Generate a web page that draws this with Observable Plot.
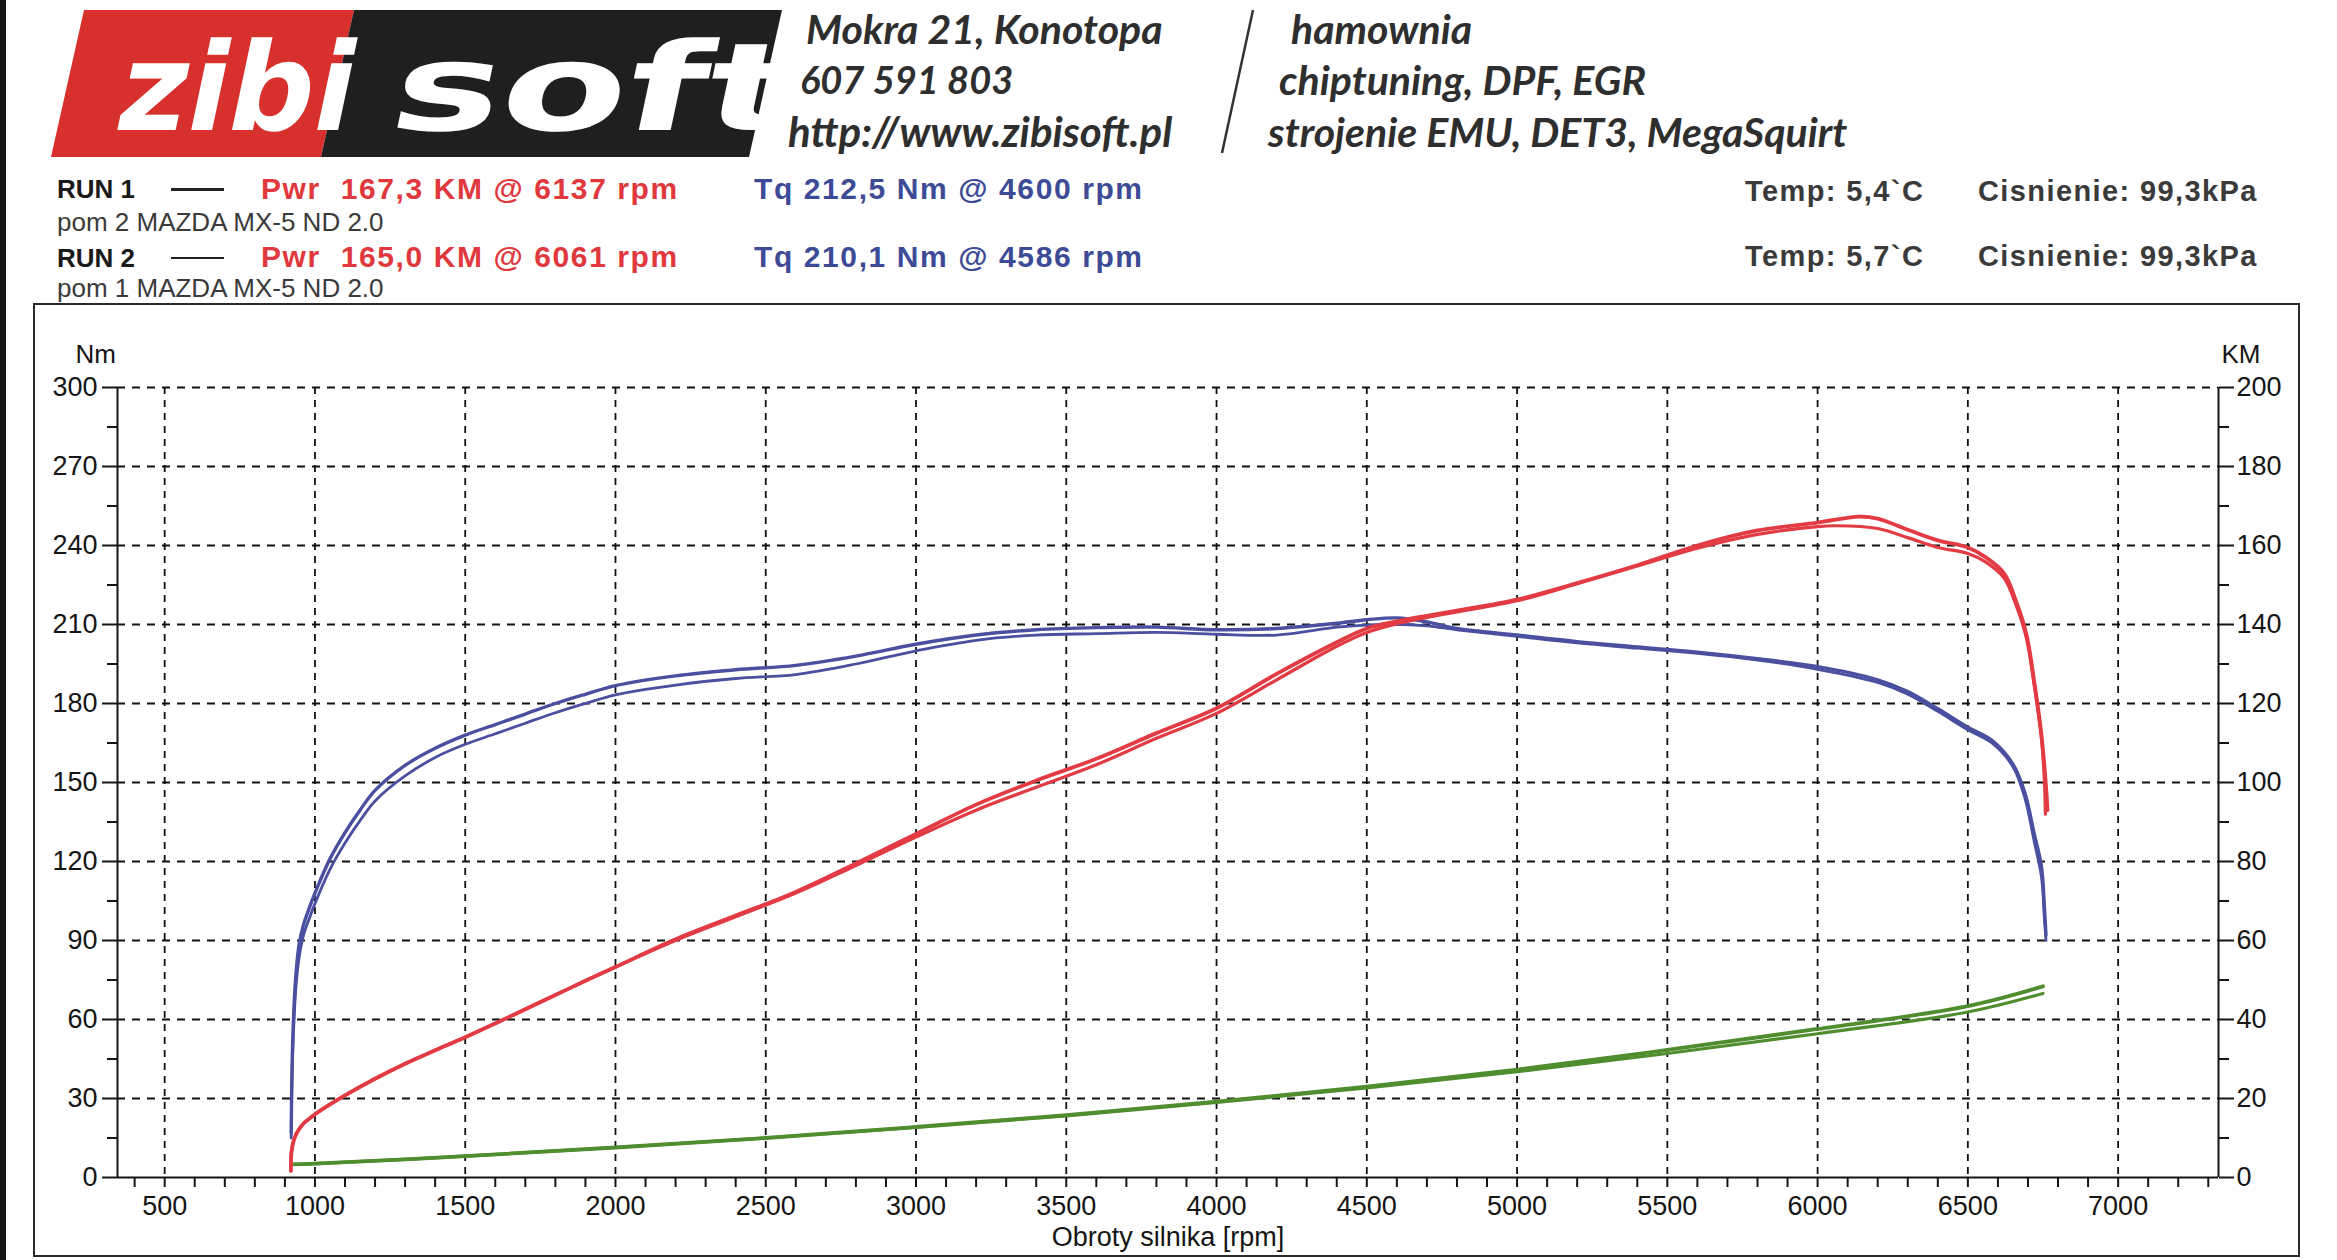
<!DOCTYPE html>
<html><head><meta charset="utf-8">
<script src="https://cdn.jsdelivr.net/npm/d3@7"></script>
<script src="https://cdn.jsdelivr.net/npm/@observablehq/plot@0.6"></script>
<style>
html,body{margin:0;padding:0;background:#fff;}
body{width:2337px;height:1260px;position:relative;overflow:hidden;font-family:"Liberation Sans",Arial,sans-serif;}
.t{position:absolute;white-space:pre;line-height:1;transform:translateY(-50%);}
.hdr{font-family:Lato,"Open Sans",sans-serif;font-style:italic;font-weight:700;font-size:41px;color:#2e2e2e;}
.run{font-weight:700;font-size:26px;color:#1a1a1a;}
.pwr{font-weight:700;font-size:30px;letter-spacing:1.6px;color:#e0383d;}
.tq{font-weight:700;font-size:30px;letter-spacing:1.6px;color:#3d4b97;}
.env{font-weight:700;font-size:29px;letter-spacing:1.4px;color:#3a3a3a;}
.pom{font-size:26px;color:#3a3a3a;}
#edge{position:absolute;left:0;top:0;width:6px;height:1260px;background:#151515;}
#chart{position:absolute;left:33px;top:303px;}
</style></head><body>
<div id="edge"></div>
<svg width="800" height="170" style="position:absolute;left:0;top:0">
  <polygon points="84,10 354,10 321,157 51,157" fill="#d8302c"/>
  <polygon points="354,10 782,10 749,157 321,157" fill="#1f1f1f"/>
  <g transform="translate(0,130) skewX(-12)" fill="#fff" font-family="DejaVu Sans" font-weight="700" font-size="122">
    <text x="112" y="0" textLength="236" lengthAdjust="spacingAndGlyphs">zibi</text>
    <text x="386" y="0" textLength="400" lengthAdjust="spacingAndGlyphs">soft</text>
  </g>
</svg>
<svg width="2337" height="170" style="position:absolute;left:0;top:0;pointer-events:none">
  <line x1="1253" y1="10" x2="1222" y2="153" stroke="#333" stroke-width="2.5"/>
</svg>
<div class="t hdr" style="left:806px;top:28px">Mokra 21, Konotopa</div>
<div class="t hdr" style="left:800px;top:79px;font-size:38px">607 591 803</div>
<div class="t hdr" style="left:788px;top:131px;font-size:42px">http://www.zibisoft.pl</div>
<div class="t hdr" style="left:1291px;top:28px">hamownia</div>
<div class="t hdr" style="left:1279px;top:79px">chiptuning, DPF, EGR</div>
<div class="t hdr" style="left:1268px;top:131px">strojenie EMU, DET3, MegaSquirt</div>

<div class="t run" style="left:57px;top:189px">RUN 1</div>
<div style="position:absolute;left:171px;top:188px;width:53px;height:3px;background:#222"></div>
<div class="t pwr" style="left:261px;top:189px">Pwr  167,3 KM @ 6137 rpm</div>
<div class="t tq" style="left:754px;top:189px">Tq 212,5 Nm @ 4600 rpm</div>
<div class="t env" style="left:1745px;top:191px">Temp: 5,4`C</div>
<div class="t env" style="left:1978px;top:191px">Cisnienie: 99,3kPa</div>
<div class="t pom" style="left:57px;top:222px">pom 2 MAZDA MX-5 ND 2.0</div>

<div class="t run" style="left:57px;top:258px">RUN 2</div>
<div style="position:absolute;left:171px;top:257px;width:53px;height:2px;background:#222"></div>
<div class="t pwr" style="left:261px;top:257px">Pwr  165,0 KM @ 6061 rpm</div>
<div class="t tq" style="left:754px;top:257px">Tq 210,1 Nm @ 4586 rpm</div>
<div class="t env" style="left:1745px;top:256px">Temp: 5,7`C</div>
<div class="t env" style="left:1978px;top:256px">Cisnienie: 99,3kPa</div>
<div class="t pom" style="left:57px;top:288px">pom 1 MAZDA MX-5 ND 2.0</div>

<div id="chart"></div>
<script>
// ---- axis ticks ----
const xTicks = [500,1000,1500,2000,2500,3000,3500,4000,4500,5000,5500,6000,6500,7000];
const nmTicks = [0,30,60,90,120,150,180,210,240,270,300];
const kmTicks = [0,20,40,60,80,100,120,140,160,180,200];
const xDomain = [343, 7334];

// ---- torque [Nm] ----
const rpmT1 = [921,924,930,938,948,962,980,1000,1050,1100,1150,1200,1300,1400,1500,1600,1700,1800,1900,2000,2200,2400,2600,2800,3000,3200,3400,3600,3800,4000,4200,4400,4500,4600,4700,4800,5000,5200,5400,5600,5800,6000,6200,6300,6400,6500,6580,6650,6690,6720,6745,6755,6760];
const torque1 = [17,43,64,79,89,96,102,108,121,131,139.5,147,156.5,163,168,172,176,180,183.5,186.8,190.5,192.8,194.5,198,202.5,206,208,208.8,209,208,208.5,210.5,211.8,212.5,211,208.5,206,203.5,201.5,199.5,197,194,189,184.5,178,171,166,157,146,131,118,102,92];
const rpmT2 = [921,924,930,938,948,962,980,1000,1050,1100,1150,1200,1300,1400,1500,1600,1700,1800,1900,2000,2200,2400,2600,2800,3000,3200,3400,3600,3800,4000,4200,4400,4500,4586,4700,4800,5000,5200,5400,5600,5800,6000,6200,6300,6400,6500,6580,6650,6690,6720,6745,6755,6760];
const torque2 = [15,39,59,74,84,92,98,104,117,127,135.5,143,152.5,159.5,164.5,168.5,172.5,176.5,180,183.3,187,189.5,191,195,200,204,206,206.5,207,206.3,206,209,209.8,210.1,209.5,208,205.5,203,201,199,196.5,193,188,183.5,177,170,165,156,144,128,114,98,90];

// ---- power [KM] ----
const rpmP1 = [920,922,930,941,960,980,1000,1050,1100,1200,1300,1400,1500,1600,1700,1800,1900,2000,2200,2400,2600,2800,3000,3200,3400,3600,3800,4000,4200,4400,4500,4600,4700,4800,5000,5200,5400,5600,5800,6000,6137,6200,6300,6400,6500,6560,6620,6660,6695,6720,6745,6760,6765];
const power1 = [1.7,6.5,9.5,11.5,13.5,14.8,16,18.5,20.8,25,28.8,32.2,35.5,39,42.6,46.2,49.8,53.3,60.3,66.3,72.3,79.5,87,94.4,100.5,106,112.5,118.8,127.5,135.5,139,140.8,142.2,143.5,146.3,150.5,155,160,163.8,165.8,167.3,166.8,164,161.3,159.5,157,153,146,137.5,126,112,99,93];
const rpmP2 = [920,922,930,941,960,980,1000,1050,1100,1200,1300,1400,1500,1600,1700,1800,1900,2000,2200,2400,2600,2800,3000,3200,3400,3600,3800,4000,4200,4400,4500,4600,4700,4800,5000,5200,5400,5600,5800,6000,6061,6200,6300,6400,6500,6560,6620,6660,6695,6720,6745,6755,6758];
const power2 = [1.7,6.5,9.5,11.5,13.5,14.8,16,18.5,20.8,25,28.8,32.2,35.5,39,42.6,46.2,49.8,53.3,60,66,72,79,86.2,93,98.8,104.5,111.2,117.5,126,134.5,138,140.2,141.8,143.2,146,150.3,154.8,159.3,162.8,164.8,165,164.3,162,159.5,158,155.8,151.8,145,136.5,125,111,100,92];

// ---- losses (green) [KM] ----
const rpmL = [925,1000,1500,2000,2500,3000,3500,4000,4500,5000,5500,6000,6500,6750];
const loss1 = [3.3,3.5,5.4,7.6,10,12.8,15.8,19.2,23,27.3,32.3,37.6,43.4,48.4];
const loss2 = [3.3,3.5,5.4,7.6,10,12.7,15.6,19,22.7,26.8,31.4,36.4,41.9,46.6];

// KM are drawn on the Nm scale: 200 KM = 300 Nm
const KM = 1.5;
const toRows = (xs, ys, k) => xs.map((x, i) => ({rpm: x, v: ys[i] * k}));
const T1 = toRows(rpmT1, torque1, 1), T2 = toRows(rpmT2, torque2, 1);
const P1 = toRows(rpmP1, power1, KM), P2 = toRows(rpmP2, power2, KM);
const L1 = toRows(rpmL, loss1, KM), L2 = toRows(rpmL, loss2, KM);

const xMinor = d3.range(400, 7334, 100).filter(d => d % 500 !== 0);
const nmMinor = nmTicks.slice(0, -1).map(d => d + 15);
const kmMinor = kmTicks.slice(0, -1).map(d => (d + 10) * KM);

const BLUE = "#4a4f9f", RED = "#e23b44", GREEN = "#4f8d2e";
const line = (data, stroke, w) => Plot.line(data, {x: "rpm", y: "v", stroke, strokeWidth: w, curve: "catmull-rom"});

const chart = Plot.plot({
  width: 2267, height: 954,
  marginLeft: 84, marginRight: 82, marginTop: 84, marginBottom: 80,
  x: {domain: xDomain},
  y: {domain: [0, 300]},
  style: {fontFamily: "'Liberation Sans', Arial, sans-serif", fontSize: "27px", color: "#151515", background: "transparent", overflow: "visible"},
  marks: [
    Plot.gridX({ticks: xTicks, stroke: "#111", strokeOpacity: 1, strokeWidth: 1.8, strokeDasharray: "7,6"}),
    Plot.gridY({ticks: nmTicks.slice(1), stroke: "#111", strokeOpacity: 1, strokeWidth: 1.8, strokeDasharray: "8,7"}),
    Plot.ruleX(xDomain, {stroke: "#151515", strokeWidth: 2}),
    Plot.ruleY([0], {stroke: "#151515", strokeWidth: 2}),
    Plot.axisY({anchor: "left", ticks: nmTicks, tickSize: 15, tickPadding: 5, strokeWidth: 2, tickFormat: d => String(d), label: null, fontSize: 27}),
    Plot.axisY({anchor: "left", ticks: nmMinor, tickSize: 10, strokeWidth: 2, tickFormat: () => "", label: null}),
    Plot.axisY({anchor: "right", ticks: kmTicks.map(d => d * KM), tickSize: 15, tickPadding: 3, strokeWidth: 2, tickFormat: d => String(Math.round(d / KM)), label: null, fontSize: 27}),
    Plot.axisY({anchor: "right", ticks: kmMinor, tickSize: 10, strokeWidth: 2, tickFormat: () => "", label: null}),
    Plot.axisX({anchor: "bottom", ticks: xTicks, tickSize: 10, tickPadding: 8, strokeWidth: 2, tickFormat: d => String(d), label: null, fontSize: 27}),
    Plot.axisX({anchor: "bottom", ticks: xMinor, tickSize: 10, strokeWidth: 2, tickFormat: () => "", label: null}),
    Plot.text(["Nm"], {text: d => d, frameAnchor: "top-left", lineAnchor: "middle", dx: -42, dy: -33, fontSize: 26}),
    Plot.text(["KM"], {text: d => d, frameAnchor: "top-right", lineAnchor: "middle", dx: 42, dy: -33, fontSize: 26}),
    Plot.text(["Obroty silnika [rpm]"], {text: d => d, frameAnchor: "bottom", lineAnchor: "middle", dy: 60, fontSize: 27}),
    line(L2, GREEN, 3.2),
    line(L1, GREEN, 3.8),
    line(T2, BLUE, 2.8),
    line(T1, BLUE, 3.4),
    line(P2, RED, 3.2),
    line(P1, RED, 3.8)
  ]
});
chart.style.outline = "2px solid #2a2a2a";
chart.style.outlineOffset = "-2px";
document.getElementById("chart").appendChild(chart);
</script>
</body></html>
